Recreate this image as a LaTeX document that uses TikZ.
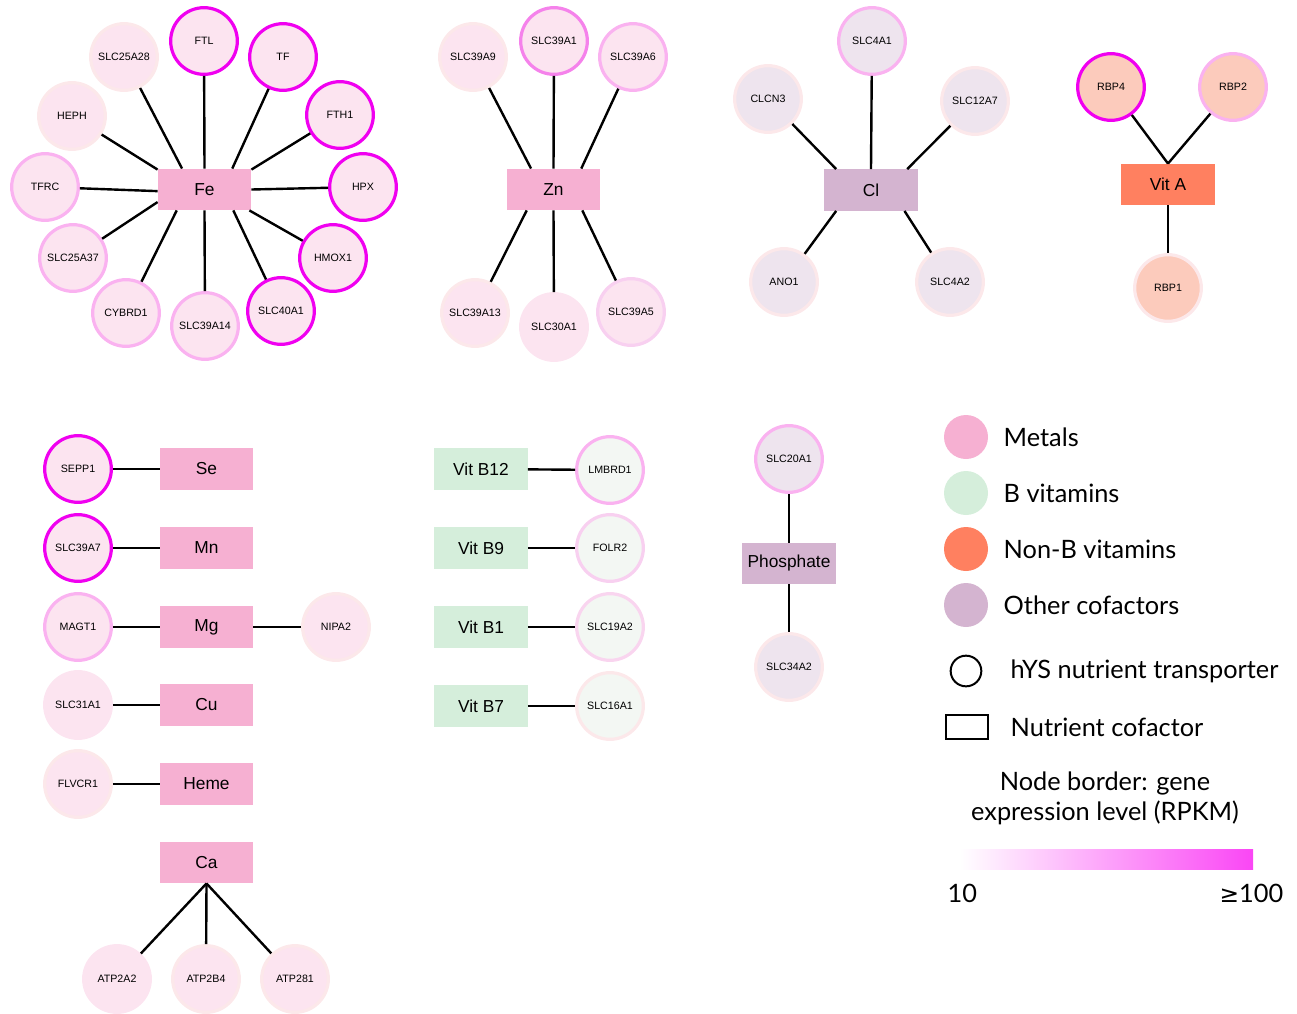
\documentclass[tikz,border=0pt]{standalone}
\usepackage{fontspec}
\setmainfont{Liberation Sans}
\newfontfamily\legendfont{Lato}
\newfontfamily\symbfont{DejaVu Sans}
\usetikzlibrary{positioning}

\definecolor{metalbox}{RGB}{246,176,210}
\definecolor{metalfill}{RGB}{252,228,240}
\definecolor{bvitbox}{RGB}{213,238,219}
\definecolor{bvitfill}{RGB}{243,247,243}
\definecolor{nbvitbox}{RGB}{255,128,96}
\definecolor{nbvitfill}{RGB}{252,203,188}
\definecolor{otherbox}{RGB}{212,180,208}
\definecolor{otherfill}{RGB}{238,228,238}
\definecolor{lvfive}{RGB}{240,0,240}
\definecolor{lvfour}{RGB}{245,130,235}
\definecolor{lvthree}{RGB}{250,178,240}
\definecolor{lvtwo}{RGB}{248,208,240}
\definecolor{lvone}{RGB}{252,232,234}
\definecolor{barhi}{RGB}{250,70,245}

\tikzset{
  gene/.style={circle,minimum size=50pt,inner sep=0pt,line width=2.4pt,
    font=\fontsize{8}{9}\selectfont},
  cofactor/.style={rectangle,minimum width=70pt,minimum height=31pt,inner sep=0pt,
    font=\fontsize{13}{15}\selectfont},
  link/.style={line width=1.8pt},
  legtext/.style={anchor=west,font=\legendfont\fontsize{19}{22.5}\selectfont}
}

\begin{document}
\begin{tikzpicture}[x=0.75pt,y=-0.75pt]
\useasboundingbox (0,0) rectangle (1297,1014);

% Fe
\node[cofactor,fill=metalbox] (fe) at (204.5,189.5) {Fe};
\node[gene,fill=metalfill,draw=lvone] (slc25a28) at (124,57) {SLC25A28};
\node[gene,fill=metalfill,draw=lvfive] (ftl) at (204,41) {FTL};
\node[gene,fill=metalfill,draw=lvfive] (tf) at (283,57) {TF};
\node[gene,fill=metalfill,draw=lvfive] (fth1) at (340,115) {FTH1};
\node[gene,fill=metalfill,draw=lvfive] (hpx) at (363,187) {HPX};
\node[gene,fill=metalfill,draw=lvfive] (hmox1) at (333,258) {HMOX1};
\node[gene,fill=metalfill,draw=lvfive] (slc40a1) at (281,311) {SLC40A1};
\node[gene,fill=metalfill,draw=lvthree] (slc39a14) at (205,326) {SLC39A14};
\node[gene,fill=metalfill,draw=lvthree] (cybrd1) at (126,313) {CYBRD1};
\node[gene,fill=metalfill,draw=lvthree] (slc25a37) at (73,258) {SLC25A37};
\node[gene,fill=metalfill,draw=lvthree] (tfrc) at (45,187) {TFRC};
\node[gene,fill=metalfill,draw=lvone] (heph) at (72,116) {HEPH};
\draw[link] (fe.137) -- (slc25a28);
\draw[link] (fe.90) -- (ftl);
\draw[link] (fe.37) -- (tf);
\draw[link] (fe.23) -- (fth1);
\draw[link] (fe.0) -- (hpx);
\draw[link] (fe.335) -- (hmox1);
\draw[link] (fe.324) -- (slc40a1);
\draw[link] (fe.270) -- (slc39a14);
\draw[link] (fe.217) -- (cybrd1);
\draw[link] (fe.195) -- (slc25a37);
\draw[link] (fe.182) -- (tfrc);
\draw[link] (fe.157) -- (heph);

% Zn
\node[cofactor,fill=metalbox] (zn) at (553.5,189.5) {Zn};
\node[gene,fill=metalfill,draw=lvone] (slc39a9) at (473,57) {SLC39A9};
\node[gene,fill=metalfill,draw=lvfour] (slc39a1) at (554,41) {SLC39A1};
\node[gene,fill=metalfill,draw=lvthree] (slc39a6) at (633,57) {SLC39A6};
\node[gene,fill=metalfill,draw=lvone] (slc39a13) at (475,313) {SLC39A13};
\node[gene,fill=metalfill,draw=metalfill] (slc30a1) at (554,327) {SLC30A1};
\node[gene,fill=metalfill,draw=lvtwo] (slc39a5) at (631,312) {SLC39A5};
\draw[link] (zn.137) -- (slc39a9);
\draw[link] (zn.90) -- (slc39a1);
\draw[link] (zn.37) -- (slc39a6);
\draw[link] (zn.218) -- (slc39a13);
\draw[link] (zn.270) -- (slc30a1);
\draw[link] (zn.324) -- (slc39a5);

% Cl
\node[cofactor,fill=otherbox] (cl) at (871,190) {Cl};
\node[gene,fill=otherfill,draw=lvthree] (slc4a1) at (872,41) {SLC4A1};
\node[gene,fill=otherfill,draw=lvone] (clcn3) at (768,99) {CLCN3};
\node[gene,fill=otherfill,draw=lvone] (slc12a7) at (975,101) {SLC12A7};
\node[gene,fill=otherfill,draw=lvone] (ano1) at (784,282) {ANO1};
\node[gene,fill=otherfill,draw=lvone] (slc4a2) at (950,282) {SLC4A2};
\draw[link] (cl.90) -- (slc4a1);
\draw[link] (cl.149) -- (clcn3);
\draw[link] (cl.30) -- (slc12a7);
\draw[link] (cl.211) -- (ano1);
\draw[link] (cl.328) -- (slc4a2);

% Vit A
\node[cofactor,fill=nbvitbox] (vita) at (1168,184.5) {Vit A};
\node[gene,fill=nbvitfill,draw=lvfive] (rbp4) at (1111,87) {RBP4};
\node[gene,fill=nbvitfill,draw=lvthree] (rbp2) at (1233,87) {RBP2};
\node[gene,fill=nbvitfill,draw=lvone] (rbp1) at (1168,288) {RBP1};
\draw[link] (vita.north) -- (rbp4);
\draw[link] (vita.north) -- (rbp2);
\draw[link] (vita.south) -- (rbp1);

% single metals
\node[cofactor,fill=metalbox] (se) at (206.5,469) {Se};
\node[gene,fill=metalfill,draw=lvfive] (sepp1) at (78,469) {SEPP1};
\node[cofactor,fill=metalbox] (mn) at (206.5,548) {Mn};
\node[gene,fill=metalfill,draw=lvfive] (slc39a7) at (78,548) {SLC39A7};
\node[cofactor,fill=metalbox] (mg) at (206.5,627) {Mg};
\node[gene,fill=metalfill,draw=lvthree] (magt1) at (78,627) {MAGT1};
\node[gene,fill=metalfill,draw=lvone] (nipa2) at (336,627) {NIPA2};
\node[cofactor,fill=metalbox] (cu) at (206.5,705) {Cu};
\node[gene,fill=metalfill,draw=metalfill] (slc31a1) at (78,705) {SLC31A1};
\node[cofactor,fill=metalbox] (heme) at (206.5,784) {Heme};
\node[gene,fill=metalfill,draw=lvone] (flvcr1) at (78,784) {FLVCR1};
\draw[link] (sepp1) -- (se);
\draw[link] (slc39a7) -- (mn);
\draw[link] (magt1) -- (mg);
\draw[link] (mg) -- (nipa2);
\draw[link] (slc31a1) -- (cu);
\draw[link] (flvcr1) -- (heme);

% Ca
\node[cofactor,fill=metalbox] (ca) at (206.5,862.5) {Ca};
\node[gene,fill=metalfill,draw=metalfill] (atp2a2) at (117,979) {ATP2A2};
\node[gene,fill=metalfill,draw=lvone] (atp2b4) at (206,979) {ATP2B4};
\node[gene,fill=metalfill,draw=lvone] (atp281) at (295,979) {ATP281};
\draw[link] (ca.south) -- (atp2a2);
\draw[link] (ca.south) -- (atp2b4);
\draw[link] (ca.south) -- (atp281);

% B vitamins
\node[cofactor,fill=bvitbox] (vitb12) at (481,469) {Vit B12};
\node[gene,fill=bvitfill,draw=lvthree] (lmbrd1) at (610,470) {LMBRD1};
\node[cofactor,fill=bvitbox] (vitb9) at (481,548) {Vit B9};
\node[gene,fill=bvitfill,draw=lvtwo] (folr2) at (610,548) {FOLR2};
\node[cofactor,fill=bvitbox] (vitb1) at (481,627) {Vit B1};
\node[gene,fill=bvitfill,draw=lvtwo!80!lvone] (slc19a2) at (610,627) {SLC19A2};
\node[cofactor,fill=bvitbox] (vitb7) at (481,706) {Vit B7};
\node[gene,fill=bvitfill,draw=lvone] (slc16a1) at (610,706) {SLC16A1};
\draw[link] (vitb12) -- (lmbrd1);
\draw[link] (vitb9) -- (folr2);
\draw[link] (vitb1) -- (slc19a2);
\draw[link] (vitb7) -- (slc16a1);

% Phosphate
\node[cofactor,fill=otherbox] (phos) at (789,563.5) {Phosphate};
\node[gene,fill=otherfill,draw=lvthree] (slc20a1) at (789,459) {SLC20A1};
\node[gene,fill=otherfill,draw=lvone] (slc34a2) at (789,667) {SLC34A2};
\draw[link] (phos) -- (slc20a1);
\draw[link] (phos) -- (slc34a2);

% legend
\node[circle,fill=metalbox,minimum size=33pt,inner sep=0pt] (kmetal) at (966,437) {};
\node[legtext] (tmetal) at (999,437) {Metals};
\node[circle,fill=bvitbox,minimum size=33pt,inner sep=0pt] (kbvit) at (966,493) {};
\node[legtext] (tbvit) at (999,493) {B vitamins};
\node[circle,fill=nbvitbox,minimum size=33pt,inner sep=0pt] (knbvit) at (966,549) {};
\node[legtext] (tnbvit) at (999,549) {Non-B vitamins};
\node[circle,fill=otherbox,minimum size=33pt,inner sep=0pt] (kother) at (966,605) {};
\node[legtext] (tother) at (999,605) {Other cofactors};
\node[circle,draw,line width=1.5pt,minimum size=23pt,inner sep=0pt] (kgene) at (966,671) {};
\node[legtext] (tgene) at (1006,671) {hYS nutrient transporter};
\node[rectangle,draw,line width=1.5pt,minimum width=32pt,minimum height=18pt,inner sep=0pt] (kbox) at (967,727) {};
\node[legtext] (tbox) at (1006,727) {Nutrient cofactor};
\node[legtext,anchor=center,align=center] (tborder) at (1105,798) {Node border: gene\\expression level (RPKM)};
\shade[left color=white,right color=barhi] (960,849) rectangle (1253,869);
\node[legtext] (tlow) at (943,893) {10};
\node[legtext,anchor=east] (thigh) at (1288,893) {{\symbfont\fontsize{17.5}{20}\selectfont ≥}100};
\end{tikzpicture}
\end{document}
